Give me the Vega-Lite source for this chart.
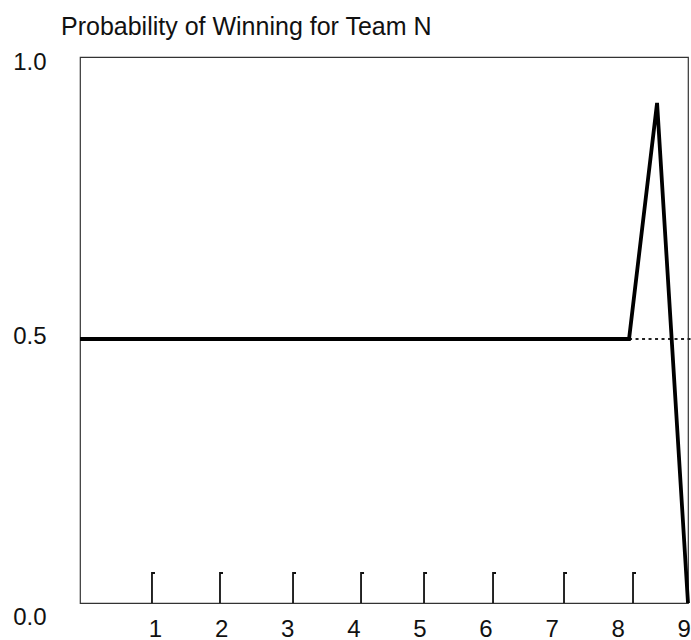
{
  "$schema": "https://vega.github.io/schema/vega-lite/v6.json",
  "width": 608,
  "height": 546,
  "autosize": "none",
  "padding": {"left": 80, "top": 57, "right": 3, "bottom": 37},
  "background": "white",
  "title": {
    "text": "Probability of Winning for Team N",
    "anchor": "start",
    "frame": "group",
    "dx": -19,
    "offset": -9,
    "baseline": "alphabetic",
    "font": "Liberation Sans",
    "fontSize": 25,
    "fontWeight": "normal",
    "color": "#111"
  },
  "datasets": {
    "main": [
      {"inning": -0.135, "p": 0.5},
      {"inning": 8.172, "p": 0.5},
      {"inning": 8.596, "p": 0.947},
      {"inning": 9.064, "p": 0.0}
    ],
    "dotted": [
      {"inning": 8.172, "p": 0.5},
      {"inning": 9.11, "p": 0.5}
    ],
    "marks": [
      {"inning": 0.954, "p": 0.0284},
      {"inning": 1.983, "p": 0.0284},
      {"inning": 3.088, "p": 0.0284},
      {"inning": 4.117, "p": 0.0284},
      {"inning": 5.07, "p": 0.0284},
      {"inning": 6.114, "p": 0.0284},
      {"inning": 7.188, "p": 0.0284},
      {"inning": 8.232, "p": 0.0284}
    ]
  },
  "encoding": {
    "x": {
      "field": "inning",
      "type": "quantitative",
      "scale": {"domain": [-0.135, 9.064], "nice": false, "zero": false},
      "axis": {
        "values": [1, 2, 3, 4, 5, 6, 7, 8, 9],
        "format": "d",
        "title": null,
        "domain": false,
        "ticks": false,
        "grid": false,
        "labelPadding": 14,
        "labelFont": "Liberation Sans",
        "labelFontSize": 24,
        "labelColor": "#111"
      }
    },
    "y": {
      "field": "p",
      "type": "quantitative",
      "scale": {"domain": [0, 1.034], "nice": false},
      "axis": {
        "values": [0, 0.5, 1],
        "format": ".1f",
        "title": null,
        "domain": false,
        "ticks": false,
        "grid": false,
        "labelPadding": 34,
        "labelFont": "Liberation Sans",
        "labelFontSize": 24,
        "labelColor": "#111",
        "labelOffset": {
          "condition": [
            {"test": "datum.value === 1", "value": -12},
            {"test": "datum.value === 0", "value": 14}
          ],
          "value": -2
        }
      }
    }
  },
  "layer": [
    {
      "data": {"name": "dotted"},
      "mark": {"type": "line", "color": "#222", "strokeWidth": 2, "strokeDash": [3, 3.5], "clip": false}
    },
    {
      "data": {"name": "marks"},
      "mark": {
        "type": "point",
        "shape": "M0.2,-1L0,-1L0,1",
        "size": 900,
        "filled": false,
        "stroke": "#111",
        "strokeWidth": 1.8,
        "opacity": 1
      }
    },
    {
      "data": {"name": "main"},
      "mark": {"type": "line", "color": "black", "strokeWidth": 3.8, "strokeJoin": "miter", "clip": false}
    }
  ],
  "config": {
    "view": {"stroke": "#333", "strokeWidth": 1.2}
  }
}
